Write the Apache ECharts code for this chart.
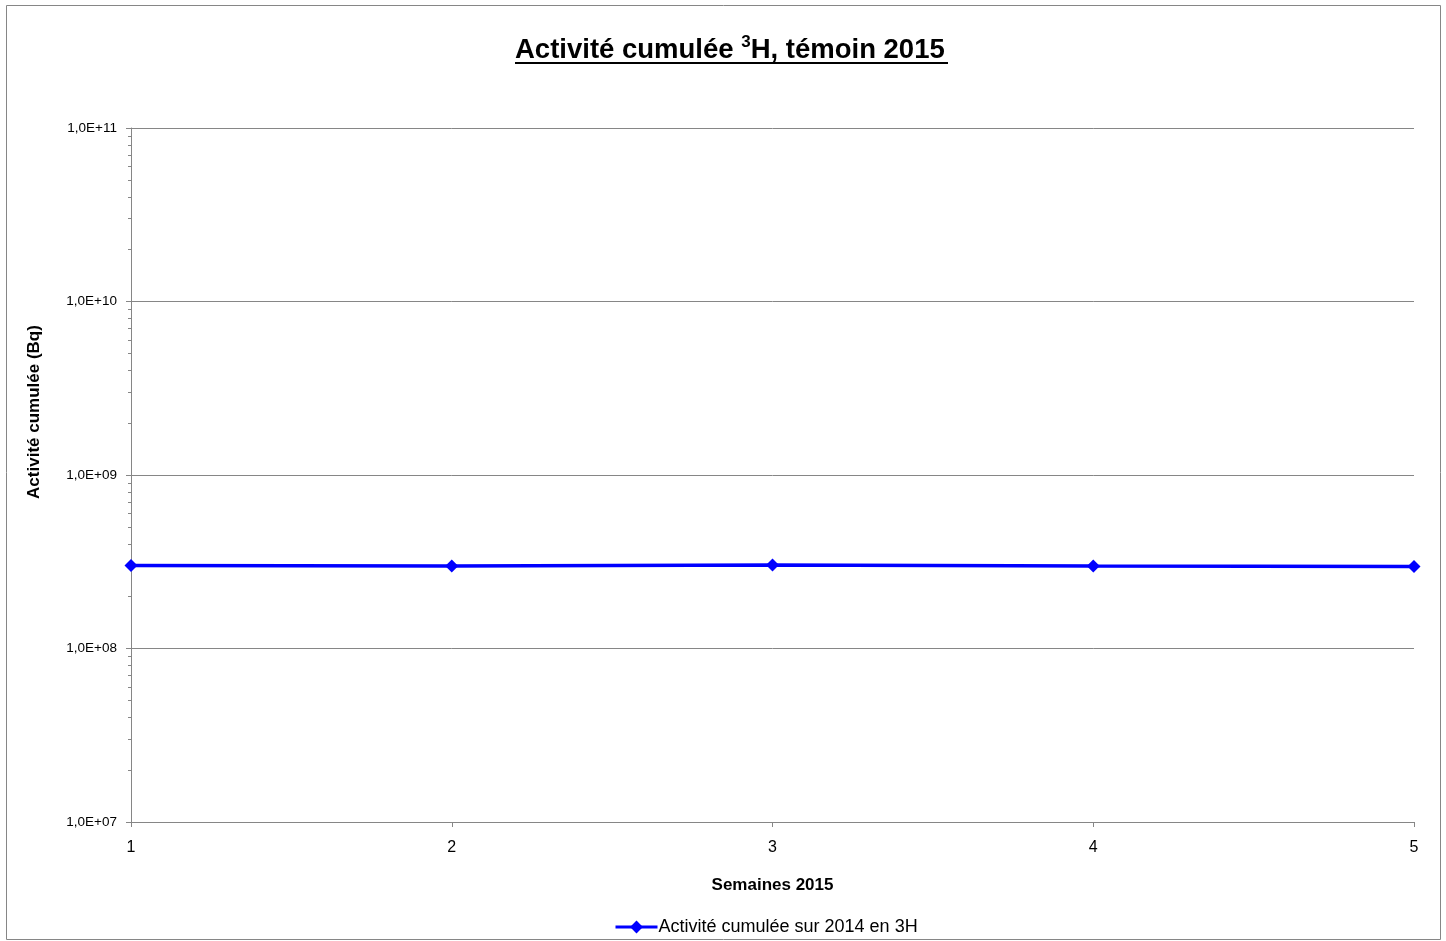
<!DOCTYPE html>
<html><head><meta charset="utf-8">
<script src="https://cdn.jsdelivr.net/npm/echarts@6/dist/echarts.min.js"></script>
<style>html,body{margin:0;padding:0;background:#fff}#c{width:1446px;height:941px}</style>
</head><body><div id="c"></div>
<script>
var weeks = ['1','2','3','4','5'];
var activite = [3.01e8, 2.99e8, 3.03e8, 2.99e8, 2.97e8];
var seriesName = 'Activité cumulée sur 2014 en 3H';
var yTickFmt = function(v){ var e = Math.round(Math.log10(v)); return '1,0E+' + (e<10?'0':'') + e; };
var FONT = 'Liberation Sans';
var chart = echarts.init(document.getElementById('c'));
chart.setOption({
  backgroundColor: '#fff',
  animation: false,
  textStyle: {fontFamily: FONT},
  graphic: [
    {type:'rect', shape:{x:6.5,y:5.5,width:1434,height:934}, style:{fill:'none', stroke:'#868686', lineWidth:1}, silent:true},
    {type:'text', left:515, top:34, style:{
      text:'{t|Activité cumulée }{s|3}{t|H, témoin 2015}',
      rich:{t:{fontSize:27.5, fontWeight:'bold', fontFamily:FONT, fill:'#000', verticalAlign:'bottom'},
            s:{fontSize:17, fontWeight:'bold', fontFamily:FONT, fill:'#000', verticalAlign:'top', padding:[0,0,13,0]}}}},
    {type:'line', shape:{x1:515, y1:63, x2:948, y2:63}, style:{stroke:'#000', lineWidth:2}},
    {type:'text', x:34, y:412, rotation:Math.PI/2, style:{text:'Activité cumulée (Bq)', fontSize:17, fontWeight:'bold', fontFamily:FONT, fill:'#000', align:'center', verticalAlign:'middle'}}
  ],
  grid: {left:131, right:32, top:128, bottom:119, containLabel:false},
  legend: {bottom:0, left:609, itemWidth:42, itemHeight:16, itemGap:0,
    lineStyle:{width:3},
    textStyle:{fontSize:18, color:'#000', fontFamily:FONT, padding:[0,0,0,-4]}, data:[seriesName]},
  xAxis: {type:'category', data:weeks, boundaryGap:false,
    name:'Semaines 2015', nameLocation:'middle', nameGap:55,
    nameTextStyle:{fontSize:17, fontWeight:'bold', color:'#000', fontFamily:FONT},
    axisLine:{lineStyle:{color:'#868686', width:1}},
    axisTick:{show:true, alignWithLabel:true, length:5, lineStyle:{color:'#868686'}},
    axisLabel:{fontSize:16, color:'#000', margin:18, fontFamily:FONT},
    splitLine:{show:false}},
  yAxis: {type:'log', logBase:10, min:1e7, max:1e11,
    axisLine:{show:true, lineStyle:{color:'#868686', width:1}},
    axisTick:{show:true, length:5, lineStyle:{color:'#868686'}},
    minorTick:{show:true, splitNumber:9, length:3, lineStyle:{color:'#868686'}},
    axisLabel:{fontSize:13.5, color:'#000', margin:14, formatter:yTickFmt, fontFamily:FONT},
    splitLine:{show:true, lineStyle:{color:'#868686', width:1}}},
  series: [{name:seriesName, type:'line', data:activite,
    lineStyle:{color:'#0000ff', width:3.5}, itemStyle:{color:'#0000ff'},
    symbol:'diamond', symbolSize:13, showSymbol:true}]
});
</script></body></html>
